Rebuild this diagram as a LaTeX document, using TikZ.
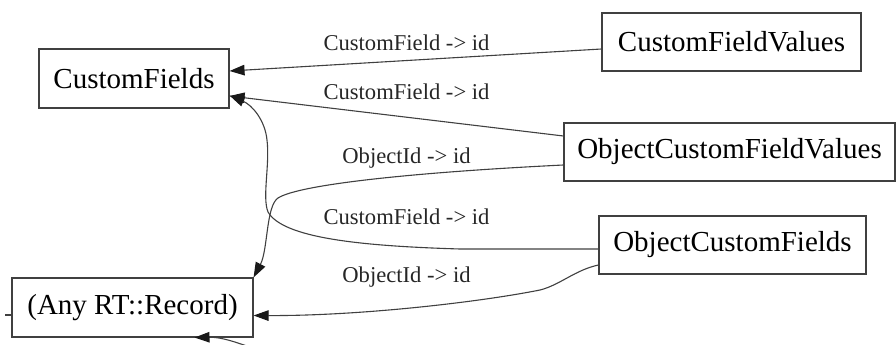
\documentclass[tikz,border=0pt]{standalone}
\usepackage{fontspec}
\setmainfont{Liberation Serif}
\usetikzlibrary{arrows.meta}
\begin{document}
\begin{tikzpicture}[x=1pt,y=-1pt,
  box/.style={draw=black!75, line width=1.1pt, inner sep=0pt, font=\fontsize{29}{34}\selectfont, minimum height=58pt},
  lbl/.style={font=\fontsize{22.6}{26}\selectfont, inner sep=0pt, text=black!85},
  conn/.style={draw=black!75, line width=1.1pt},
  edge/.style={conn, -{Triangle[length=15pt,width=10.5pt,color=black!90]}}]
\useasboundingbox (0,0) rectangle (896,345);
\clip (0,0) rectangle (896,345);
\node[box, minimum width=190pt, minimum height=59pt] (cf) at (134,78.5) {CustomFields};
\node[box, minimum width=259pt] (cfv) at (731.5,42) {CustomFieldValues};
\node[box, minimum width=331pt] (ocfv) at (729.5,152) {ObjectCustomFieldValues};
\node[box, minimum width=267pt] (ocf) at (732.5,245) {ObjectCustomFields};
\node[box, minimum width=241pt, minimum height=59pt] (rec) at (132.5,307.5) {(Any RT::Record)};

\node[lbl] (l1) at (406.5,43) {CustomField -> id};
\node[lbl] (l2) at (406.5,92) {CustomField -> id};
\node[lbl] (l3) at (406.5,158) {ObjectId -> id};
\node[lbl] (l4) at (406.5,217) {CustomField -> id};
\node[lbl] (l5) at (406.5,277) {ObjectId -> id};

% CustomFieldValues -> CustomFields
\draw[edge] ([yshift=-7pt]cfv.west) -- ([yshift=7.5pt]cf.east);
% ObjectCustomFieldValues -> CustomFields
\draw[edge] ([yshift=16pt]ocfv.west) -- ([yshift=-17.5pt]cf.east);
% ObjectCustomFieldValues -> Record
\draw[edge] ([yshift=-13pt]ocfv.west) .. controls (420,172) and (300,184) .. (278,198)
  .. controls (266,206) and (268,250) .. (rec.north east);
% ObjectCustomFields -> CustomFields
\draw[edge] ([yshift=-4pt]ocf.west) -- (460,249) .. controls (360,246) and (283,238) .. (268,212)
  .. controls (262,197) and (270,165) .. (267,140)
  .. controls (265,120) and (252,105) .. ([yshift=-17pt]cf.east);
% ObjectCustomFields -> Record
\draw[edge] ([yshift=-20pt]ocf.west) .. controls (575,270) and (560,285) .. (540,290)
  .. controls (480,302) and (360,316) .. ([yshift=-8pt]rec.east);
% partial edges at the picture border
\coordinate (bfree) at (268,354);
\draw[edge] (bfree) .. controls (235,341) and (220,337) .. ([xshift=62pt]rec.south);
\coordinate (lfree) at (5,315);
\draw[conn] ([yshift=-7.5pt]rec.west) -- (lfree);
\end{tikzpicture}
\end{document}
